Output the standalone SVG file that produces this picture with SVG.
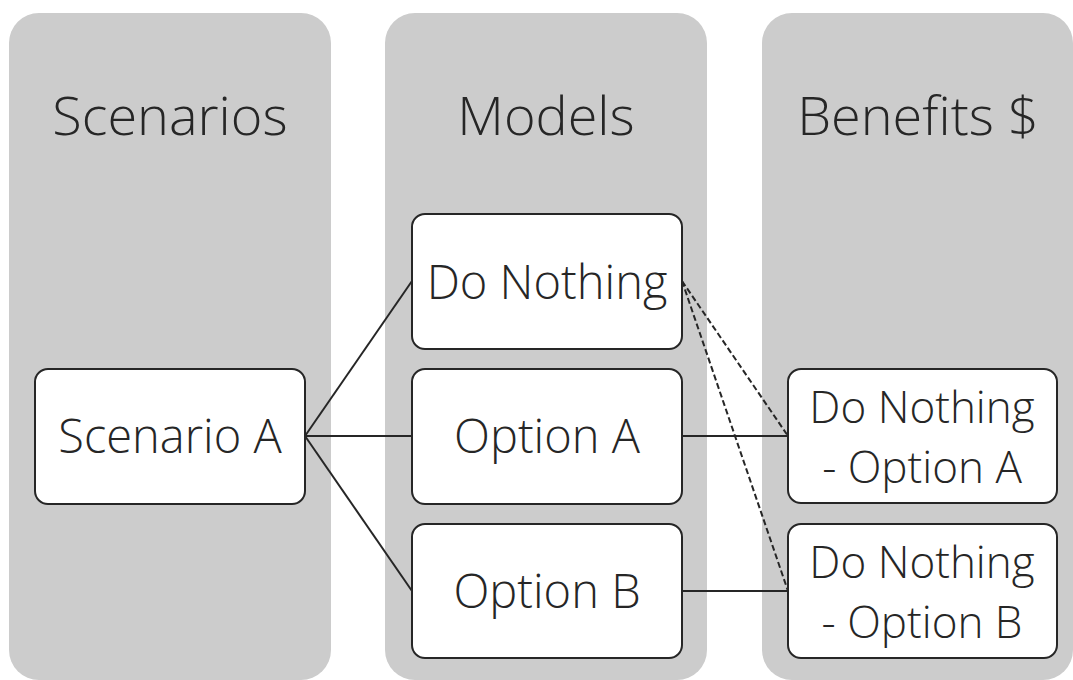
<svg xmlns="http://www.w3.org/2000/svg" width="1073" height="680" viewBox="0 0 1073 680">
<style>
.col{fill:#cccccc}
.node{fill:#ffffff;stroke:#262626;stroke-width:2}
.t{font-family:"Open Sans","Noto Sans","Liberation Sans",sans-serif;font-weight:300;fill:#262626;text-anchor:middle}
.title{font-size:54px}
.lbl{font-size:47px}
.lbl2{font-size:44px}
.edge{stroke:#262626;stroke-width:2;fill:none}
.dash{stroke-dasharray:6 3}
</style>
<rect width="1073" height="680" fill="#ffffff"/>
<g id="col-scenarios"><rect class="col" x="9" y="13" width="322" height="667" rx="30"/><text class="t title" x="170" y="135">Scenarios</text></g>
<g id="col-models"><rect class="col" x="385" y="13" width="322" height="667" rx="30"/><text class="t title" x="546" y="135">Models</text></g>
<g id="col-benefits"><rect class="col" x="762" y="13" width="311" height="667" rx="30"/><text class="t title" x="918" y="135">Benefits $</text></g>
<g id="connectors">
<line class="edge" x1="305" y1="436" x2="412" y2="281"/>
<line class="edge" x1="305" y1="436" x2="412" y2="436"/>
<line class="edge" x1="305" y1="436" x2="412" y2="591"/>
<line class="edge" x1="682" y1="436" x2="788" y2="436"/>
<line class="edge" x1="682" y1="591" x2="788" y2="591"/>
<line class="edge dash" x1="682" y1="281" x2="788" y2="436"/>
<line class="edge dash" x1="682" y1="281" x2="788" y2="591"/>
</g>
<g id="scenario-a"><rect class="node" x="35" y="369" width="270" height="135" rx="13"/><text class="t lbl" x="170" y="453">Scenario A</text></g>
<g id="do-nothing"><rect class="node" x="412" y="214" width="270" height="135" rx="13"/><text class="t lbl" x="547" y="299">Do Nothing</text></g>
<g id="option-a"><rect class="node" x="412" y="369" width="270" height="135" rx="13"/><text class="t lbl" x="547" y="453">Option A</text></g>
<g id="option-b"><rect class="node" x="412" y="524" width="270" height="134" rx="13"/><text class="t lbl" x="547" y="608">Option B</text></g>
<g id="benefit-a"><rect class="node" x="788" y="369" width="269" height="134" rx="13"/><text class="t lbl2" x="922" y="423">Do Nothing</text><text class="t lbl2" x="922" y="483">- Option A</text></g>
<g id="benefit-b"><rect class="node" x="788" y="524" width="269" height="134" rx="13"/><text class="t lbl2" x="922" y="578">Do Nothing</text><text class="t lbl2" x="922" y="638">- Option B</text></g>
</svg>
